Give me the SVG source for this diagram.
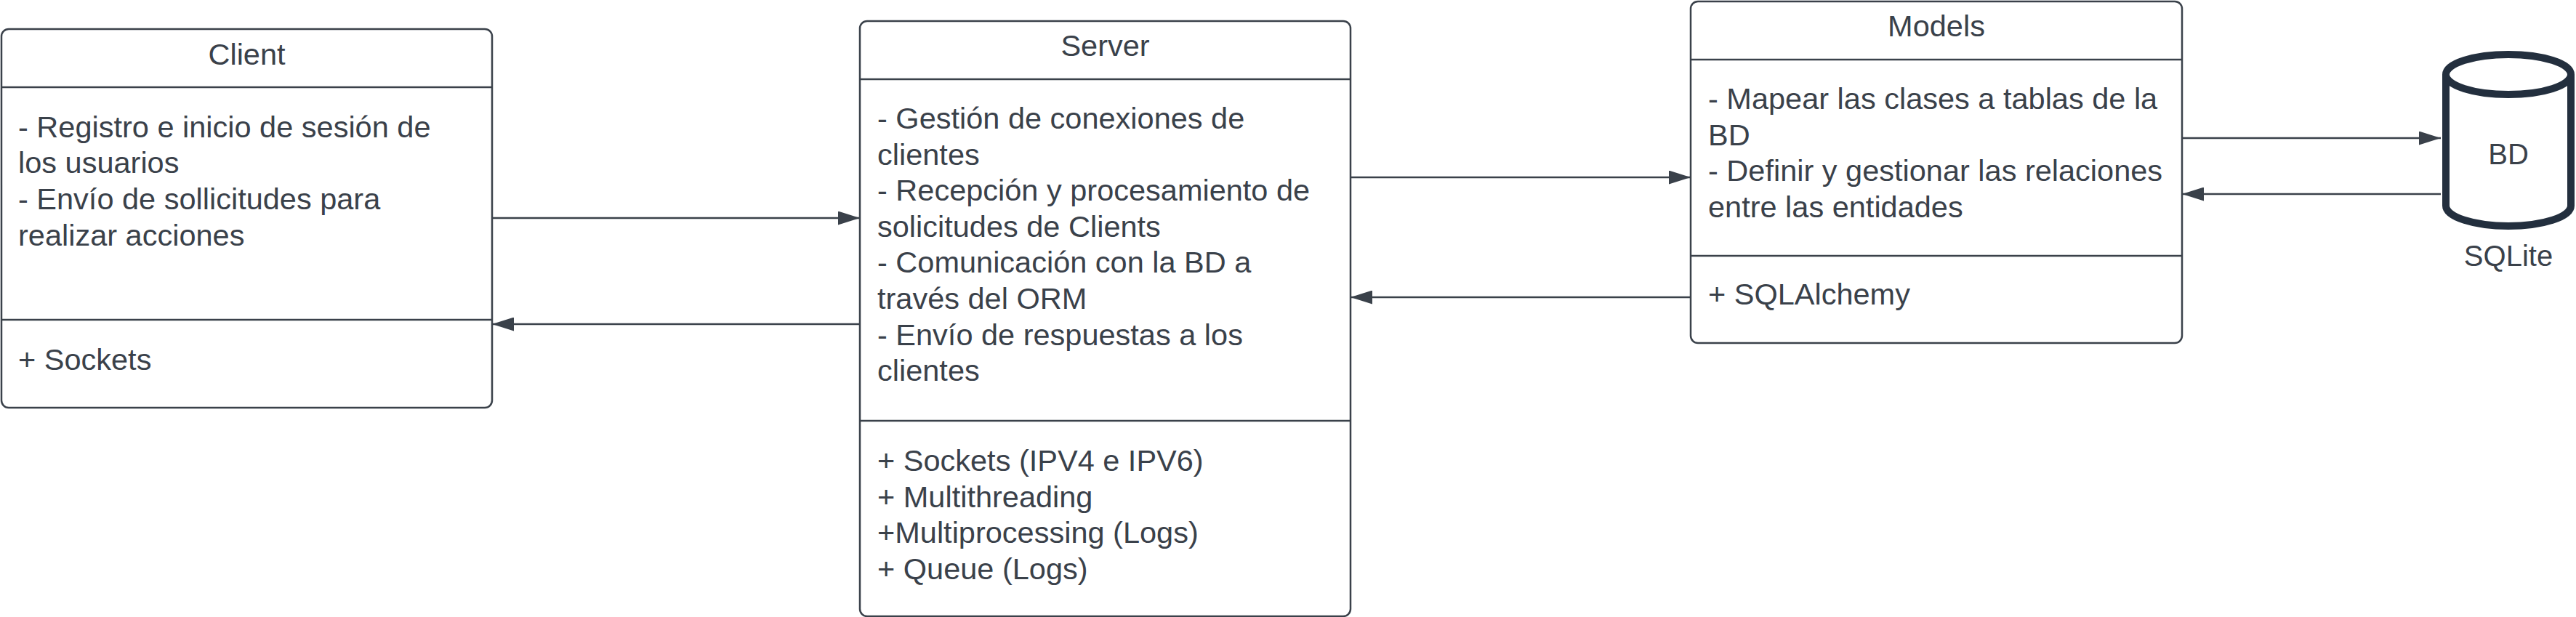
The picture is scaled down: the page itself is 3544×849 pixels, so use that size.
<svg xmlns="http://www.w3.org/2000/svg" width="3544" height="849" viewBox="0 0 3544 849">
<defs>
<style>
.box{fill:#ffffff;stroke:#3a414a;stroke-width:2.5}
.sep{stroke:#3a414a;stroke-width:2.5;fill:none}
.t{font-family:"Liberation Sans",Arial,sans-serif;font-size:41.5px;fill:#3a414a}
.c{text-anchor:middle}
.edge{stroke:#3a414a;stroke-width:2.5;fill:none}
.db{fill:#ffffff;stroke:#232f3e;stroke-width:10}
.dbt{font-family:"Liberation Sans",Arial,sans-serif;font-size:40px;fill:#3a414a;text-anchor:middle}
</style>
<marker id="ah" viewBox="0 0 30 19" refX="30" refY="9.5" markerWidth="30" markerHeight="19" markerUnits="userSpaceOnUse" orient="auto">
<path d="M0,0 L30,9.5 L0,19 Z" fill="#3a414a"/>
</marker>
</defs>
<rect width="3544" height="849" fill="#ffffff"/>

<g id="client">
<rect class="box" x="2" y="40" width="675" height="521" rx="10"/>
<line class="sep" x1="2" y1="120" x2="677" y2="120"/>
<line class="sep" x1="2" y1="440" x2="677" y2="440"/>
<text class="t c" x="339.5" y="88.6">Client</text>
<text class="t" x="25">
<tspan x="25" y="188.5">- Registro e inicio de sesión de</tspan>
<tspan x="25" y="238.2">los usuarios</tspan>
<tspan x="25" y="287.9">- Envío de sollicitudes para</tspan>
<tspan x="25" y="337.6">realizar acciones</tspan>
</text>
<text class="t" x="25" y="509">+ Sockets</text>
</g>

<g id="server">
<rect class="box" x="1183" y="29" width="675" height="819" rx="10"/>
<line class="sep" x1="1183" y1="109" x2="1858" y2="109"/>
<line class="sep" x1="1183" y1="579" x2="1858" y2="579"/>
<text class="t c" x="1520.5" y="77">Server</text>
<text class="t" x="1207">
<tspan x="1207" y="177">- Gestión de conexiones de</tspan>
<tspan x="1207" y="226.6">clientes</tspan>
<tspan x="1207" y="276.2">- Recepción y procesamiento de</tspan>
<tspan x="1207" y="325.8">solicitudes de Clients</tspan>
<tspan x="1207" y="375.4">- Comunicación con la BD a</tspan>
<tspan x="1207" y="425">través del ORM</tspan>
<tspan x="1207" y="474.6">- Envío de respuestas a los</tspan>
<tspan x="1207" y="524.2">clientes</tspan>
</text>
<text class="t" x="1207">
<tspan x="1207" y="648">+ Sockets (IPV4 e IPV6)</tspan>
<tspan x="1207" y="697.6">+ Multithreading</tspan>
<tspan x="1207" y="747.2">+Multiprocessing (Logs)</tspan>
<tspan x="1207" y="796.8">+ Queue (Logs)</tspan>
</text>
</g>

<g id="models">
<rect class="box" x="2326" y="2" width="676" height="470" rx="10"/>
<line class="sep" x1="2326" y1="82" x2="3002" y2="82"/>
<line class="sep" x1="2326" y1="352" x2="3002" y2="352"/>
<text class="t c" x="2664" y="50">Models</text>
<text class="t" x="2350">
<tspan x="2350" y="150">- Mapear las clases a tablas de la</tspan>
<tspan x="2350" y="199.6">BD</tspan>
<tspan x="2350" y="249.2">- Definir y gestionar las relaciones</tspan>
<tspan x="2350" y="298.8">entre las entidades</tspan>
</text>
<text class="t" x="2350" y="419">+ SQLAlchemy</text>
</g>

<g id="bd">
<path class="db" d="M3365,102.5 L3365,283 A86,28 0 0 0 3537,283 L3537,102.5"/>
<ellipse class="db" cx="3451" cy="102.5" rx="86" ry="27.5"/>
<text class="dbt" x="3451" y="226">BD</text>
<text class="dbt" x="3451" y="366">SQLite</text>
</g>

<g id="connectors">
<line class="edge" x1="677" y1="300" x2="1183" y2="300" marker-end="url(#ah)"/>
<line class="edge" x1="1183" y1="446" x2="677" y2="446" marker-end="url(#ah)"/>
<line class="edge" x1="1858" y1="244" x2="2326" y2="244" marker-end="url(#ah)"/>
<line class="edge" x1="2326" y1="409" x2="1858" y2="409" marker-end="url(#ah)"/>
<line class="edge" x1="3002" y1="190" x2="3358" y2="190" marker-end="url(#ah)"/>
<line class="edge" x1="3358" y1="267" x2="3002" y2="267" marker-end="url(#ah)"/>
</g>
</svg>
